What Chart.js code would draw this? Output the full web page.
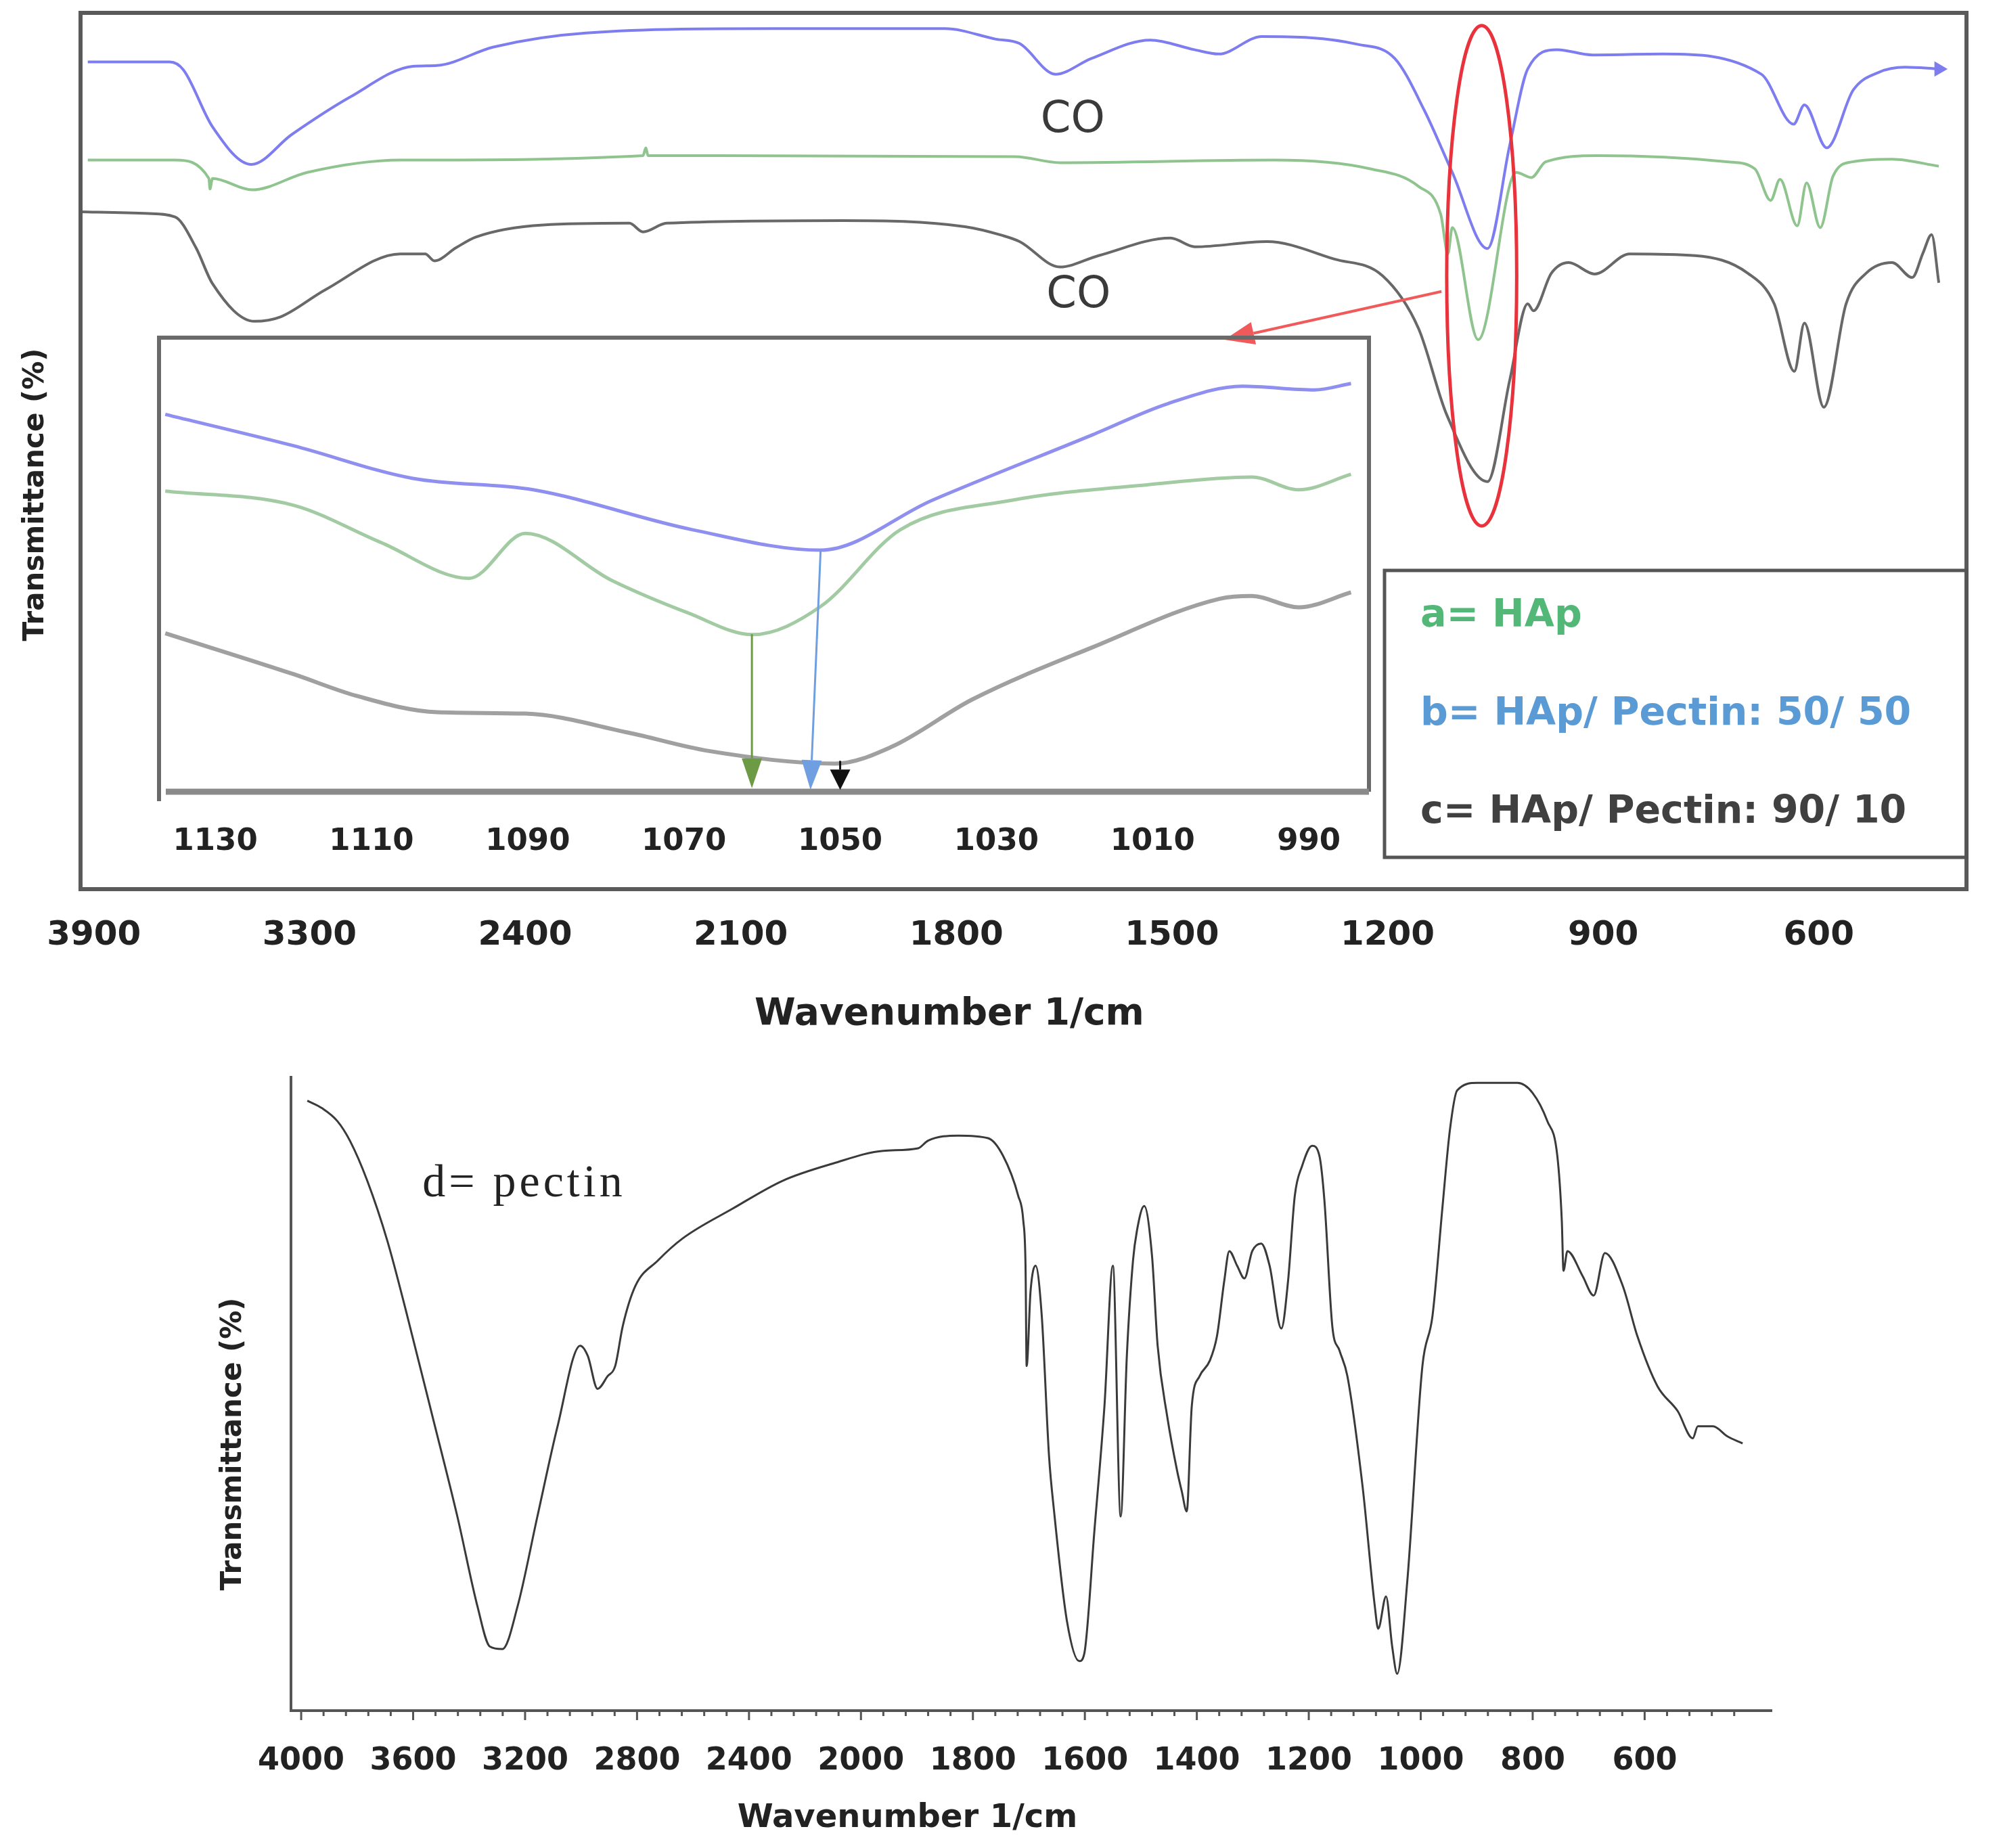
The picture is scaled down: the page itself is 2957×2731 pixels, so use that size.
<!DOCTYPE html>
<html>
<head>
<meta charset="utf-8">
<script src="https://cdn.jsdelivr.net/npm/chart.js@4.4.0/dist/chart.umd.min.js"></script>
<style>
  html, body { margin: 0; padding: 0; background: #fff; }
  #wrap { position: relative; width: 2957px; height: 2731px; background: #fff; }
  canvas { position: absolute; }
  #mainChart { left: 0; top: 0; }
  #insetChart { left: 200px; top: 480px; }
  #pectinChart { left: 0; top: 1560px; }
</style>
</head>
<body>
<div id="wrap">
  <canvas id="mainChart" width="2957" height="1560"></canvas>
  <canvas id="insetChart" width="1840" height="820"></canvas>
  <canvas id="pectinChart" width="2957" height="1171"></canvas>
</div>
<script>
// ---------------- TICK LABELS ----------------
const mainTicks = [3900, 3300, 2400, 2100, 1800, 1500, 1200, 900, 600];
const insetTicks = [1130, 1110, 1090, 1070, 1050, 1030, 1010, 990];
const pectinTicks = [4000, 3600, 3200, 2800, 2400, 2000, 1800, 1600, 1400, 1200, 1000, 800, 600];

// ---------------- TOP PANEL SPECTRA (wavenumber / transmittance, arbitrary units) --------
const hapWn = [3917, 3674, 3580, 3577, 3570, 3460, 3306, 2921, 2236, 2232, 2229, 2203, 1718, 1656, 1358, 1224, 1157, 1126, 1116, 1110, 1074, 1021, 1000, 980, 907, 726, 689, 667, 654, 630, 617, 598, 580, 553, 498, 433];
const hapT  = [83.2, 83.2, 81.1, 79.9, 81.1, 79.8, 81.8, 83.2, 83.7, 84.6, 83.7, 83.7, 83.6, 82.9, 83.2, 82.2, 80.2, 77.0, 72.5, 75.5, 62.7, 81.8, 81.2, 83.0, 83.7, 83.0, 82.2, 78.6, 81.0, 75.7, 80.6, 75.5, 81.4, 83.0, 83.3, 82.5];

const hp5050Wn = [3917, 3689, 3651, 3570, 3462, 3350, 3130, 2869, 2768, 2532, 2315, 2052, 1816, 1745, 1712, 1662, 1612, 1530, 1469, 1435, 1375, 1241, 1190, 1149, 1110, 1061, 1030, 1005, 964, 915, 817, 680, 635, 620, 589, 552, 517, 480, 433];
const hp5050T  = [94.4, 94.4, 93.5, 87.0, 82.7, 86.1, 90.4, 93.9, 94.0, 96.1, 97.7, 98.2, 98.2, 97.0, 96.5, 93.0, 94.8, 96.9, 95.8, 95.3, 97.3, 96.4, 94.8, 88.9, 81.8, 73.1, 84.9, 93.6, 95.8, 95.2, 95.3, 93.0, 87.3, 89.5, 84.6, 91.2, 93.2, 93.8, 93.6];

const hp9010Wn = [3939, 3748, 3674, 3616, 3570, 3453, 3381, 3234, 2921, 2817, 2779, 2688, 2608, 2375, 2255, 2236, 2203, 1958, 1788, 1736, 1712, 1656, 1602, 1502, 1468, 1368, 1274, 1207, 1157, 1118, 1061, 1030, 1005, 997, 972, 948, 912, 863, 772, 699, 662, 634, 620, 593, 562, 534, 498, 470, 455, 443, 433];
const hp9010T  = [77.3, 77.1, 76.7, 73.2, 69.1, 64.8, 65.3, 68.4, 72.5, 72.5, 71.7, 73.2, 74.4, 75.8, 76.0, 75.0, 76.0, 76.3, 75.6, 74.6, 73.9, 71.0, 72.3, 74.3, 73.3, 73.9, 71.9, 70.0, 64.0, 54.2, 46.5, 58.1, 66.8, 66.0, 70.3, 71.5, 70.2, 72.5, 72.3, 70.3, 66.8, 59.1, 64.6, 55.0, 66.8, 70.3, 71.5, 69.8, 72.6, 74.7, 69.2];

// ---------------- INSET (1140 - 980 1/cm) ----------------
const insHapWn = [1136.4, 1120.0, 1108.8, 1097.5, 1090.3, 1079.2, 1069.5, 1061.2, 1052.5, 1042.3, 1028.0, 1010.7, 997.3, 991.3, 984.6];
const insHapT  = [66.2, 63.1, 54.9, 47.0, 56.9, 46.5, 39.4, 34.6, 40.8, 57.7, 64.2, 67.6, 69.3, 66.5, 69.9];
const ins5050Wn = [1136.4, 1120.0, 1104.7, 1089.3, 1068.9, 1052.5, 1038.2, 1017.7, 1008.0, 998.5, 989.3, 984.6];
const ins5050T  = [83.1, 76.2, 69.0, 66.5, 57.7, 53.2, 64.2, 78.6, 85.5, 89.3, 88.5, 89.9];
const ins9010Wn = [1136.4, 1120.0, 1111.9, 1101.6, 1090.3, 1077.1, 1066.9, 1050.6, 1043.4, 1033.1, 1017.7, 1001.4, 997.3, 991.3, 984.6];
const ins9010T  = [34.9, 25.9, 21.1, 17.5, 17.2, 13.0, 9.0, 6.2, 9.9, 20.3, 31.8, 42.5, 43.1, 40.6, 43.9];

// inset peak markers
const markWnFrom = [1061.3, 1052.5, 1050.0];
const markWnTo   = [1061.3, 1053.8, 1050.0];
const markTFrom  = [34.7, 53.2, 6.8];
const markTTo    = [0.8, 0.4, 0.4];
const markColors = ['#6c9a45', '#6f9fe0', '#111111'];

// ---------------- PECTIN ----------------
const pectinWn = [3978, 3925, 3871, 3826, 3764, 3692, 3621, 3531, 3442, 3370, 3326, 3281, 3227, 3156, 3084, 3003, 2976, 2941, 2905, 2878, 2851, 2806, 2726, 2637, 2458, 2279, 2100, 1960, 1898, 1880, 1826, 1773, 1746, 1719, 1710, 1706, 1704, 1697, 1688, 1677, 1664, 1655, 1632, 1610, 1601, 1583, 1565, 1550, 1536, 1525, 1514, 1507, 1494, 1480, 1470, 1453, 1435, 1427, 1418, 1409, 1395, 1377, 1364, 1351, 1342, 1328, 1315, 1301, 1285, 1270, 1249, 1237, 1225, 1212, 1194, 1181, 1172, 1158, 1145, 1131, 1104, 1082, 1076, 1062, 1051, 1042, 1024, 997, 979, 961, 948, 935, 899, 827, 800, 774, 756, 748, 745, 738, 711, 691, 671, 639, 613, 577, 541, 514, 505, 478, 452, 425];
const pectinT  = [96.1, 94.9, 92.9, 89.8, 83.5, 74.0, 62.2, 46.4, 30.6, 16.4, 10.1, 9.7, 16.4, 30.6, 44.8, 57.5, 55.9, 50.7, 52.7, 54.3, 60.6, 66.9, 70.9, 74.4, 79.1, 83.5, 86.2, 88.2, 88.6, 89.8, 90.6, 90.2, 87.4, 81.1, 77.2, 70.1, 54.3, 66.1, 70.1, 62.2, 40.1, 31.4, 14.1, 7.8, 9.0, 28.3, 48.0, 70.1, 30.6, 55.9, 70.9, 75.6, 79.5, 71.6, 57.5, 46.4, 37.7, 34.6, 31.4, 48.0, 52.7, 55.1, 59.0, 67.7, 72.4, 70.1, 68.1, 72.4, 73.6, 70.1, 60.2, 67.7, 81.1, 85.8, 89.0, 87.4, 80.3, 60.6, 56.7, 52.7, 35.4, 16.4, 12.9, 18.0, 10.1, 5.8, 20.4, 54.3, 62.2, 79.5, 91.4, 97.7, 98.9, 98.9, 97.3, 92.9, 87.4, 77.2, 69.3, 72.4, 68.5, 65.4, 72.1, 66.9, 59.0, 51.1, 47.2, 42.9, 44.8, 44.8, 43.2, 42.1];

// ---------------- LABELS ----------------
const legendLabels = ['a= HAp', 'b= HAp/ Pectin: 50/ 50', 'c= HAp/ Pectin: 90/ 10'];
const legendColors = ['#52b777', '#5b9bd5', '#404040'];
const coWn = [1638, 1630];
const coT = [87.7, 67.7];
const xTitle = 'Wavenumber 1/cm';
const yTitle = 'Transmittance (%)';

const blue = '#7d7df0', green = '#8fc48f', gray = '#686868';
const fontFam = '"DejaVu Sans", sans-serif';

// wavenumber -> position on an axis whose labels sit at 0,1,2...
function toPos(wn, ticks) {
    const n = ticks.length;
    if (wn >= ticks[0]) return (ticks[0] - wn) / (ticks[0] - ticks[1]);
    for (let i = 0; i < n - 1; i++) {
        if (wn <= ticks[i] && wn >= ticks[i + 1]) return i + (ticks[i] - wn) / (ticks[i] - ticks[i + 1]);
    }
    return (n - 1) + (ticks[n - 1] - wn) / (ticks[n - 2] - ticks[n - 1]);
}
function pts(wn, t, ticks) {
    return wn.map((w, i) => ({ x: ticks ? toPos(w, ticks) : w, y: t[i] }));
}
function drawArrow(ctx, x1, y1, x2, y2, color, width, head, headW) {
    const ang = Math.atan2(y2 - y1, x2 - x1);
    const bx = x2 - head * Math.cos(ang), by = y2 - head * Math.sin(ang);
    ctx.strokeStyle = color;
    ctx.lineWidth = width;
    ctx.beginPath(); ctx.moveTo(x1, y1); ctx.lineTo(bx, by); ctx.stroke();
    ctx.fillStyle = color;
    ctx.beginPath();
    ctx.moveTo(x2, y2);
    ctx.lineTo(bx + headW * Math.sin(ang), by - headW * Math.cos(ang));
    ctx.lineTo(bx - headW * Math.sin(ang), by + headW * Math.cos(ang));
    ctx.closePath(); ctx.fill();
}
function rotatedText(ctx, text, x, y, font) {
    ctx.save();
    ctx.translate(x, y);
    ctx.rotate(-Math.PI / 2);
    ctx.fillStyle = '#222';
    ctx.textAlign = 'center';
    ctx.textBaseline = 'middle';
    ctx.font = font;
    ctx.fillText(text, 0, 0);
    ctx.restore();
}
function lineSet(label, data, color, width) {
    return {
        label: label, data: data, borderColor: color, borderWidth: width,
        pointRadius: 0, cubicInterpolationMode: 'monotone', fill: false
    };
}

// ------------ TOP PANEL DECORATION -------------------
const mainDecor = {
    id: 'mainDecor',
    afterDatasetsDraw(chart) {
        const { ctx, chartArea: a, scales: { x, y } } = chart;
        const px = wn => x.getPixelForValue(toPos(wn, mainTicks));
        ctx.save();
        ctx.strokeStyle = '#5a5a5a';
        ctx.lineWidth = 6;
        ctx.strokeRect(a.left, a.top, a.width, a.height);

        // CO labels
        ctx.fillStyle = '#3a3a3a';
        ctx.font = '64px ' + fontFam;
        ctx.textAlign = 'center';
        ctx.textBaseline = 'middle';
        coWn.forEach((w, i) => ctx.fillText('CO', px(w), y.getPixelForValue(coT[i])));

        // red ellipse round the phosphate band
        const cx = px(1069), cy = y.getPixelForValue(70);
        const rx = Math.abs(px(1117.7) - px(1020.3)) / 2;
        const ry = Math.abs(y.getPixelForValue(98.5) - y.getPixelForValue(41.4)) / 2;
        ctx.strokeStyle = '#e8323c';
        ctx.lineWidth = 5;
        ctx.beginPath(); ctx.ellipse(cx, cy, rx, ry, 0, 0, Math.PI * 2); ctx.stroke();

        // red arrow pointing to the inset
        drawArrow(ctx, px(1125), y.getPixelForValue(68.2), px(1427), y.getPixelForValue(62.7), '#f05a5a', 4, 44, 17);

        // legend box
        const lx = 2046, ly = 843, lw = a.right - 2046, lh = 424;
        ctx.strokeStyle = '#555';
        ctx.lineWidth = 5;
        ctx.strokeRect(lx, ly, lw, lh);
        ctx.textAlign = 'left';
        ctx.font = 'bold 57px ' + fontFam;
        legendLabels.forEach((t, i) => {
            ctx.fillStyle = legendColors[i];
            ctx.fillText(t, 2099, 911 + i * 145);
        });

        // axis titles
        ctx.fillStyle = '#222';
        ctx.textAlign = 'center';
        ctx.font = 'bold 55px ' + fontFam;
        ctx.fillText(xTitle, 1403, 1500);
        ctx.restore();
        rotatedText(ctx, yTitle, 53, 731, 'bold 42px ' + fontFam);
    }
};

const mainChart = new Chart(document.getElementById('mainChart'), {
    type: 'line',
    data: {
        datasets: [
            Object.assign(lineSet(legendLabels[1], pts(hp5050Wn, hp5050T, mainTicks), blue, 4), {
                pointRadius: ctx => ctx.dataIndex === hp5050Wn.length - 1 ? 13 : 0,
                pointStyle: 'triangle', rotation: 90,
                pointBackgroundColor: blue, pointBorderWidth: 0
            }),
            lineSet(legendLabels[0], pts(hapWn, hapT, mainTicks), green, 4),
            lineSet(legendLabels[2], pts(hp9010Wn, hp9010T, mainTicks), gray, 4)
        ]
    },
    options: {
        responsive: false,
        animation: false,
        layout: { padding: { left: 119, right: 51, top: 19, bottom: 0 } },
        plugins: { legend: { display: false }, tooltip: { enabled: false } },
        scales: {
            x: {
                type: 'linear', min: -0.062, max: 8.685,
                afterBuildTicks: s => { s.ticks = mainTicks.map((t, i) => ({ value: i })); },
                afterFit: s => { s.height = 246; },
                grid: { display: false, drawTicks: false },
                border: { display: false },
                ticks: {
                    autoSkip: false, maxRotation: 0, padding: 39, color: '#222',
                    font: { family: fontFam, size: 50, weight: 'bold' },
                    callback: (v, i) => mainTicks[i]
                }
            },
            y: { display: false, min: 0, max: 100 }
        }
    },
    plugins: [mainDecor]
});

// ------------ INSET -------------------
const insetDecor = {
    id: 'insetDecor',
    afterDatasetsDraw(chart) {
        const { ctx, chartArea: a, scales: { x, y } } = chart;
        ctx.save();
        ctx.strokeStyle = '#6a6a6a';
        ctx.lineWidth = 6;
        ctx.beginPath();
        ctx.moveTo(a.left, a.bottom + 14); ctx.lineTo(a.left, a.top);
        ctx.lineTo(a.right, a.top); ctx.lineTo(a.right, a.bottom);
        ctx.stroke();
        ctx.strokeStyle = '#8a8a8a';
        ctx.lineWidth = 9;
        ctx.beginPath(); ctx.moveTo(a.left + 10, a.bottom); ctx.lineTo(a.right, a.bottom); ctx.stroke();

        markWnFrom.forEach((w, i) => {
            const head = i === 2 ? 30 : 44;
            drawArrow(ctx, x.getPixelForValue(w), y.getPixelForValue(markTFrom[i]),
                x.getPixelForValue(markWnTo[i]), y.getPixelForValue(markTTo[i]),
                markColors[i], 3, head, 15);
        });
        ctx.restore();
    }
};

const insetChart = new Chart(document.getElementById('insetChart'), {
    type: 'line',
    data: {
        datasets: [
            lineSet(legendLabels[1], pts(ins5050Wn, ins5050T), '#8f8fef', 5),
            lineSet(legendLabels[0], pts(insHapWn, insHapT), '#a3cba3', 5),
            lineSet(legendLabels[2], pts(ins9010Wn, ins9010T), '#a0a0a0', 6)
        ]
    },
    options: {
        responsive: false,
        animation: false,
        layout: { padding: { left: 35, right: 17, top: 19, bottom: 0 } },
        plugins: { legend: { display: false }, tooltip: { enabled: false } },
        scales: {
            x: {
                type: 'linear', reverse: true, min: 982.3, max: 1137.2,
                afterBuildTicks: s => { s.ticks = insetTicks.map(v => ({ value: v })); },
                afterFit: s => { s.height = 130; },
                grid: { display: false, drawTicks: false },
                border: { display: false },
                ticks: {
                    autoSkip: false, maxRotation: 0, padding: 47, color: '#222',
                    font: { family: fontFam, size: 45, weight: 'bold' },
                    callback: v => String(v)
                }
            },
            y: { display: false, min: 0, max: 100 }
        }
    },
    plugins: [insetDecor]
});

// ------------ PECTIN PANEL -------------------
const pectinDecor = {
    id: 'pectinDecor',
    afterDatasetsDraw(chart) {
        const { ctx, chartArea: a, scales: { x, y } } = chart;
        ctx.save();
        ctx.strokeStyle = '#555';
        ctx.lineWidth = 4;
        ctx.beginPath();
        ctx.moveTo(a.left, a.top); ctx.lineTo(a.left, a.bottom); ctx.lineTo(a.right, a.bottom);
        ctx.stroke();
        ctx.lineWidth = 3;
        for (let k = 0; k <= 64; k++) {
            const p = k * 0.2;
            const len = k % 5 === 0 ? 14 : 8;
            const xp = x.getPixelForValue(p);
            ctx.beginPath(); ctx.moveTo(xp, a.bottom); ctx.lineTo(xp, a.bottom + len); ctx.stroke();
        }

        ctx.fillStyle = '#222';
        ctx.font = '68px "Liberation Serif", serif';
        ctx.textAlign = 'left';
        ctx.textBaseline = 'middle';
        ctx.letterSpacing = '5px';
        ctx.fillText('d= pectin', x.getPixelForValue(toPos(3567, pectinTicks)), y.getPixelForValue(82.9));
        ctx.letterSpacing = '0px';

        ctx.textAlign = 'center';
        ctx.font = 'bold 48px ' + fontFam;
        ctx.fillText(xTitle, 1341, 1128);
        ctx.restore();
        rotatedText(ctx, yTitle, 345, y.getPixelForValue(42), 'bold 42px ' + fontFam);
    }
};

const pectinChart = new Chart(document.getElementById('pectinChart'), {
    type: 'line',
    data: {
        datasets: [lineSet('d= pectin', pts(pectinWn, pectinT, pectinTicks), '#3a3a3a', 3)]
    },
    options: {
        responsive: false,
        animation: false,
        layout: { padding: { left: 430, right: 338, top: 30, bottom: 0 } },
        plugins: { legend: { display: false }, tooltip: { enabled: false } },
        scales: {
            x: {
                type: 'linear', min: -0.091, max: 13.14,
                afterBuildTicks: s => { s.ticks = pectinTicks.map((t, i) => ({ value: i })); },
                afterFit: s => { s.height = 203; },
                grid: { display: false, drawTicks: false },
                border: { display: false },
                ticks: {
                    autoSkip: false, maxRotation: 0, padding: 47, color: '#222',
                    font: { family: fontFam, size: 46, weight: 'bold' },
                    callback: (v, i) => pectinTicks[i]
                }
            },
            y: { display: false, min: 0, max: 100 }
        }
    },
    plugins: [pectinDecor]
});
</script>
</body>
</html>
